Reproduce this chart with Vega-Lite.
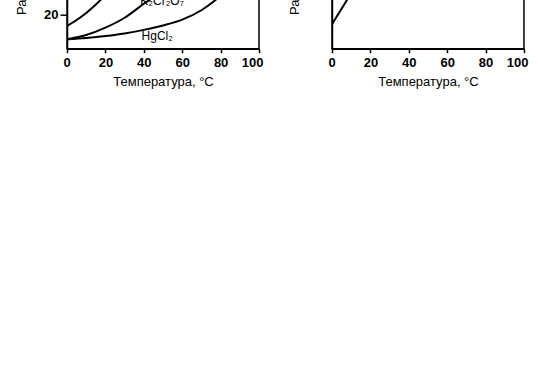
{
  "$schema": "https://vega.github.io/schema/vega-lite/v6.json",
  "padding": {"left": 14, "top": -192.3, "right": 5, "bottom": 5},
  "background": "white",
  "spacing": 23,
  "config": {
    "view": {"stroke": "black", "strokeWidth": 1.5},
    "axis": {
      "domainColor": "black", "tickColor": "black", "labelColor": "black", "titleColor": "black",
      "labelFont": "Liberation Sans", "titleFont": "Liberation Sans",
      "labelFontWeight": "bold", "labelFontSize": 13, "titleFontSize": 13, "titleFontWeight": "normal",
      "grid": false, "domainWidth": 1.5, "tickWidth": 1.5, "labelOverlap": false
    }
  },
  "datasets": {
    "left": [
      {"substance": "KNO3", "t": 0, "s": 13.3}, {"substance": "KNO3", "t": 5, "s": 16.8},
      {"substance": "KNO3", "t": 10, "s": 20.9}, {"substance": "KNO3", "t": 15, "s": 25.8},
      {"substance": "KNO3", "t": 20, "s": 31.6}, {"substance": "KNO3", "t": 25, "s": 38.3},
      {"substance": "KNO3", "t": 30, "s": 45.8}, {"substance": "KNO3", "t": 40, "s": 63.9},
      {"substance": "KNO3", "t": 50, "s": 85.5}, {"substance": "KNO3", "t": 60, "s": 110},
      {"substance": "KNO3", "t": 70, "s": 138}, {"substance": "KNO3", "t": 80, "s": 169},
      {"substance": "K2Cr2O7", "t": 0, "s": 5.5}, {"substance": "K2Cr2O7", "t": 10, "s": 8},
      {"substance": "K2Cr2O7", "t": 20, "s": 12.3}, {"substance": "K2Cr2O7", "t": 30, "s": 18.1},
      {"substance": "K2Cr2O7", "t": 40, "s": 26.3}, {"substance": "K2Cr2O7", "t": 50, "s": 34},
      {"substance": "K2Cr2O7", "t": 60, "s": 45.6}, {"substance": "K2Cr2O7", "t": 70, "s": 58},
      {"substance": "K2Cr2O7", "t": 80, "s": 73}, {"substance": "K2Cr2O7", "t": 90, "s": 88},
      {"substance": "K2Cr2O7", "t": 100, "s": 102},
      {"substance": "HgCl2", "t": 0, "s": 5.5}, {"substance": "HgCl2", "t": 10, "s": 6.3},
      {"substance": "HgCl2", "t": 20, "s": 7.4}, {"substance": "HgCl2", "t": 30, "s": 8.9},
      {"substance": "HgCl2", "t": 40, "s": 11}, {"substance": "HgCl2", "t": 50, "s": 13.6},
      {"substance": "HgCl2", "t": 60, "s": 17}, {"substance": "HgCl2", "t": 70, "s": 22.5},
      {"substance": "HgCl2", "t": 80, "s": 31}, {"substance": "HgCl2", "t": 90, "s": 42},
      {"substance": "HgCl2", "t": 100, "s": 55}
    ],
    "leftlabels": [
      {"label": "K₂Cr₂O₇", "t": 49.5, "s": 27.9},
      {"label": "HgCl₂", "t": 47, "s": 7.4}
    ],
    "right": [
      {"substance": "A", "t": 0, "s": 33}, {"substance": "A", "t": 5, "s": 54},
      {"substance": "A", "t": 10, "s": 75}, {"substance": "A", "t": 20, "s": 117},
      {"substance": "A", "t": 30, "s": 160}
    ]
  },
  "hconcat": [
    {
      "width": 192, "height": 240,
      "layer": [
        {
          "data": {"name": "left"},
          "mark": {"type": "line", "interpolate": "monotone", "clip": true, "color": "black", "strokeWidth": 2},
          "encoding": {
            "x": {"field": "t", "type": "quantitative", "scale": {"domain": [0, 100], "nice": false},
              "axis": {"values": [0, 20, 40, 60, 80, 100], "title": "Температура, °C", "tickSize": 4, "labelPadding": 4, "labelFlush": true, "labelFlushOffset": 4, "titlePadding": 6, "labelOverlap": false}},
            "y": {"field": "s", "type": "quantitative", "scale": {"domain": [0, 140.4], "nice": false},
              "axis": {"values": [20, 40, 60, 80, 100, 120], "title": "Растворимость, г/100 г воды", "tickSize": 7, "labelPadding": 2, "titlePadding": 8, "labelOverlap": false}},
            "detail": {"field": "substance"}
          }
        },
        {
          "data": {"name": "leftlabels"},
          "mark": {"type": "text", "font": "Liberation Sans", "fontSize": 12, "color": "black"},
          "encoding": {
            "x": {"field": "t", "type": "quantitative", "axis": {"values": [0, 20, 40, 60, 80, 100], "title": "Температура, °C", "tickSize": 4, "labelPadding": 4, "labelFlush": true, "labelFlushOffset": 4, "titlePadding": 6, "labelOverlap": false}},
            "y": {"field": "s", "type": "quantitative", "axis": {"values": [20, 40, 60, 80, 100, 120], "title": "Растворимость, г/100 г воды", "tickSize": 7, "labelPadding": 2, "titlePadding": 8, "labelOverlap": false}},
            "text": {"field": "label"}
          }
        }
      ]
    },
    {
      "width": 192, "height": 240,
      "data": {"name": "right"},
      "mark": {"type": "line", "interpolate": "monotone", "clip": true, "color": "black", "strokeWidth": 2},
      "encoding": {
        "x": {"field": "t", "type": "quantitative", "scale": {"domain": [0, 100], "nice": false},
          "axis": {"values": [0, 20, 40, 60, 80, 100], "title": "Температура, °C", "tickSize": 4, "labelPadding": 4, "labelFlush": true, "labelFlushOffset": 4, "titlePadding": 6, "labelOverlap": false}},
        "y": {"field": "s", "type": "quantitative", "scale": {"domain": [0, 324.3], "nice": false},
          "axis": {"values": [100, 200, 300], "title": "Растворимость, г/100 г воды", "tickSize": 7, "labelPadding": 2, "titlePadding": 0, "labelOverlap": false}}
      }
    }
  ]
}
